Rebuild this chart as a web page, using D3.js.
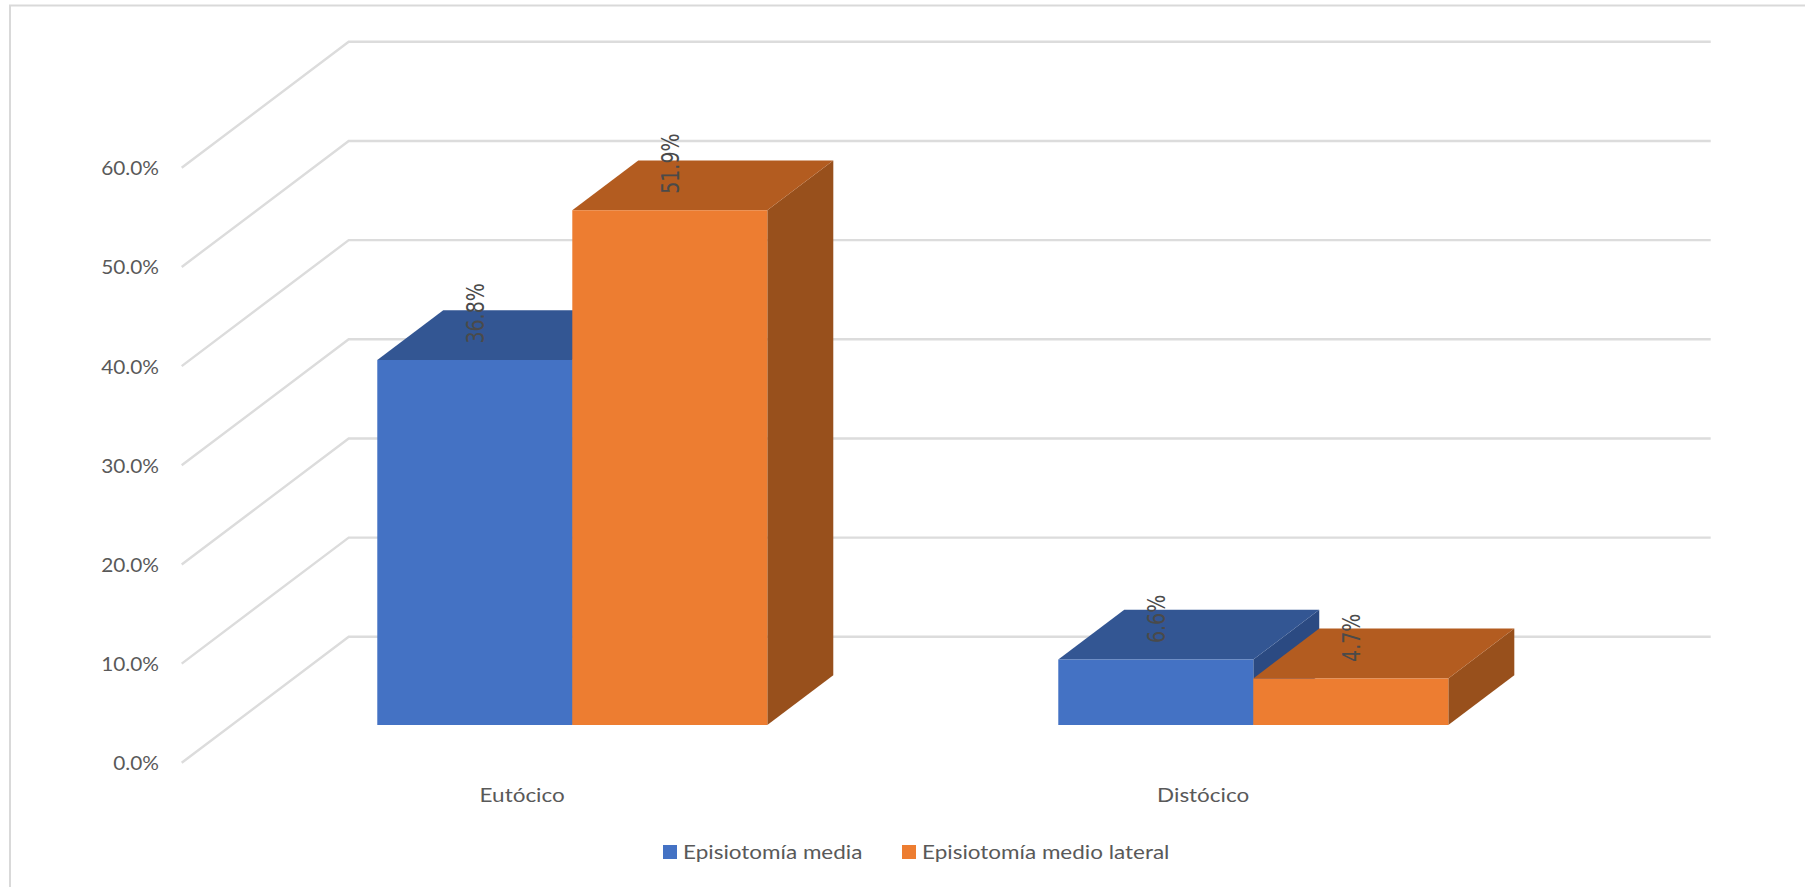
<!DOCTYPE html>
<html><head><meta charset="utf-8">
<script src="https://cdnjs.cloudflare.com/ajax/libs/d3/7.8.5/d3.min.js"></script>
<style>html,body{margin:0;padding:0;background:#fff;overflow:hidden}svg{display:block}text{font-family:Lato,"Open Sans",sans-serif;fill:#595959}</style>
</head><body><svg id="c" width="1805" height="887"></svg>
<script>
const categories = ["Eutócico", "Distócico"];
const seriesNames = ["Episiotomía media", "Episiotomía medio lateral"];
const mediaValues = [36.8, 6.6];
const lateralValues = [51.9, 4.7];
const yTicks = [0, 10, 20, 30, 40, 50, 60];
const seriesValues = [mediaValues, lateralValues];
const frontColors = ["#4472c4", "#ed7d31"];
const topColors = ["#335693", "#b35c20"];
const sideColors = ["#2b4a82", "#98501c"];

const svg = d3.select("#c");
const y = d3.scaleLinear().domain([0, 60]).range([762.8, 167.8]);
const depthX = d3.scaleLinear().domain([0, 1]).range([0, 167]);
const depthY = d3.scaleLinear().domain([0, 1]).range([0, -126]);
const x0 = d3.scaleBand().domain(categories).range([181.7, 1543.7]);
const x1 = d3.scaleBand().domain(d3.range(seriesNames.length)).range([0, x0.bandwidth()]).paddingInner(0).paddingOuter(0.746);
const zFront = 0.3, zBack = 0.695;
const P = (px, v, z) => [px + depthX(z), y(v) + depthY(z)];
const poly = pts => pts.map(p => p.join(",")).join(" ");

// chart frame
svg.append("path").attr("d", "M10,887V5.5H1805").attr("fill", "none").attr("stroke", "#d9d9d9").attr("stroke-width", 2);

// gridlines: wall + side floor line
const gl = svg.append("g").attr("fill", "none").attr("stroke", "#dcdcdc").attr("stroke-width", 2.4);
yTicks.forEach(t => {
  gl.append("polyline").attr("points", poly([P(x0.range()[0], t, 0), P(x0.range()[0], t, 1), P(x0.range()[1], t, 1)]));
});

// y tick labels
yTicks.forEach(t => {
  svg.append("text").attr("transform", `translate(159,${y(t) + 7.5}) scale(1.04,1)`)
    .attr("text-anchor", "end").attr("font-size", 20).text(t.toFixed(1) + "%");
});

// bars
const labels = [];
categories.forEach((c, ci) => {
  seriesNames.forEach((s, si) => {
    const v = seriesValues[si][ci];
    const l = x0(c) + x1(si), r = l + x1.bandwidth();
    const g = svg.append("g");
    g.append("polygon").attr("fill", sideColors[si]).attr("points", poly([P(r, 0, zFront), P(r, v, zFront), P(r, v, zBack), P(r, 0, zBack)]));
    g.append("polygon").attr("fill", topColors[si]).attr("points", poly([P(l, v, zFront), P(r, v, zFront), P(r, v, zBack), P(l, v, zBack)]));
    g.append("polygon").attr("fill", frontColors[si]).attr("points", poly([P(l, 0, zFront), P(r, 0, zFront), P(r, v, zFront), P(l, v, zFront)]));
    const f = P((l + r) / 2, v, zFront);
    labels.push({ x: f[0], y: f[1] - 16.5, text: v.toFixed(1) + "%" });
  });
});

// data labels
labels.forEach(d => {
  svg.append("text").attr("transform", `translate(${d.x + 9.5},${d.y}) rotate(-90) scale(1,1.35)`)
    .style("font-family", "'DejaVu Sans',sans-serif").attr("font-size", 19).style("fill", "#4a4a4a").text(d.text);
});

// category labels
categories.forEach(c => {
  svg.append("text").attr("transform", `translate(${x0(c) + x0.bandwidth() / 2},801.5) scale(1.125,1)`)
    .attr("text-anchor", "middle").attr("font-size", 20).text(c);
});

// legend
const legendX = [663, 902], legendTextX = [683, 922];
seriesNames.forEach((s, i) => {
  svg.append("rect").attr("x", legendX[i]).attr("y", 845).attr("width", 14).attr("height", 14).attr("fill", frontColors[i]);
  svg.append("text").attr("transform", `translate(${legendTextX[i]},859) scale(1.125,1)`).attr("font-size", 20).text(s);
});
</script></body></html>
